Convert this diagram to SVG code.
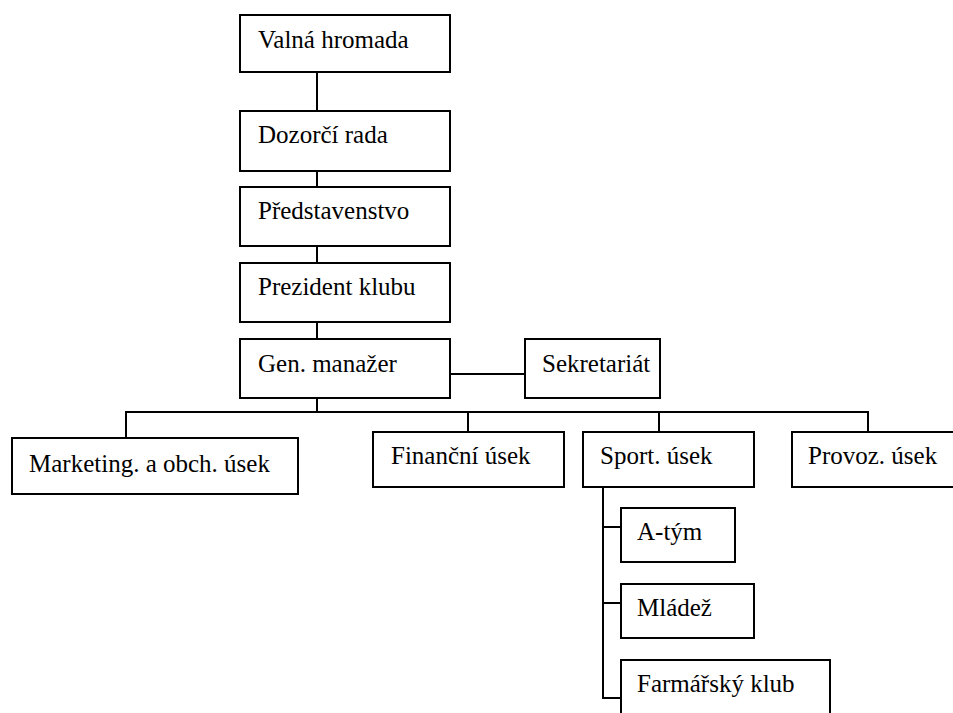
<svg xmlns="http://www.w3.org/2000/svg" width="953" height="713" viewBox="0 0 953 713">
<style>
.box{fill:#fff;stroke:#000;stroke-width:2}
.lbl{font-family:"Liberation Serif","Times New Roman",serif;font-size:25px;fill:#000}
.con{stroke:#000;stroke-width:2;fill:none}
</style>
<rect width="953" height="713" fill="#fff"/>
<g id="connectors">
<line class="con" x1="317" y1="72" x2="317" y2="111"/>
<line class="con" x1="317" y1="171" x2="317" y2="187"/>
<line class="con" x1="317" y1="246" x2="317" y2="263"/>
<line class="con" x1="317" y1="322" x2="317" y2="339"/>
<line class="con" x1="450" y1="374" x2="525" y2="374"/>
<line class="con" x1="317" y1="398" x2="317" y2="412"/>
<polyline class="con" points="126,438 126,412 868,412 868,432"/>
<line class="con" x1="468" y1="412" x2="468" y2="432"/>
<line class="con" x1="659" y1="412" x2="659" y2="432"/>
<polyline class="con" points="603,487 603,698 621,698"/>
<line class="con" x1="603" y1="527" x2="621" y2="527"/>
<line class="con" x1="603" y1="603" x2="621" y2="603"/>
</g>
<g id="valna"><rect class="box" x="240" y="15" width="210" height="57"/><text class="lbl" x="258" y="48">Valná hromada</text></g>
<g id="dozorci"><rect class="box" x="240" y="111" width="210" height="60"/><text class="lbl" x="258" y="143">Dozorčí rada</text></g>
<g id="predstavenstvo"><rect class="box" x="240" y="187" width="210" height="59"/><text class="lbl" x="258" y="219">Představenstvo</text></g>
<g id="prezident"><rect class="box" x="240" y="263" width="210" height="59"/><text class="lbl" x="258" y="295">Prezident klubu</text></g>
<g id="genmanazer"><rect class="box" x="240" y="339" width="210" height="59"/><text class="lbl" x="258" y="372">Gen. manažer</text></g>
<g id="sekretariat"><rect class="box" x="525" y="339" width="135" height="59"/><text class="lbl" x="542" y="372">Sekretariát</text></g>
<g id="marketing"><rect class="box" x="12" y="438" width="286" height="56"/><text class="lbl" x="29" y="472">Marketing. a obch. úsek</text></g>
<g id="financni"><rect class="box" x="373" y="432" width="191" height="55"/><text class="lbl" x="391" y="464">Finanční úsek</text></g>
<g id="sport"><rect class="box" x="583" y="432" width="171" height="55"/><text class="lbl" x="600" y="464">Sport. úsek</text></g>
<g id="provoz"><rect class="box" x="792" y="432" width="170" height="55"/><text class="lbl" x="808" y="464">Provoz. úsek</text></g>
<g id="atym"><rect class="box" x="621" y="508" width="114" height="54"/><text class="lbl" x="637" y="540">A-tým</text></g>
<g id="mladez"><rect class="box" x="621" y="584" width="133" height="54"/><text class="lbl" x="637" y="616">Mládež</text></g>
<g id="farmarsky"><rect class="box" x="621" y="660" width="209" height="70"/><text class="lbl" x="637" y="692">Farmářský klub</text></g>
</svg>
